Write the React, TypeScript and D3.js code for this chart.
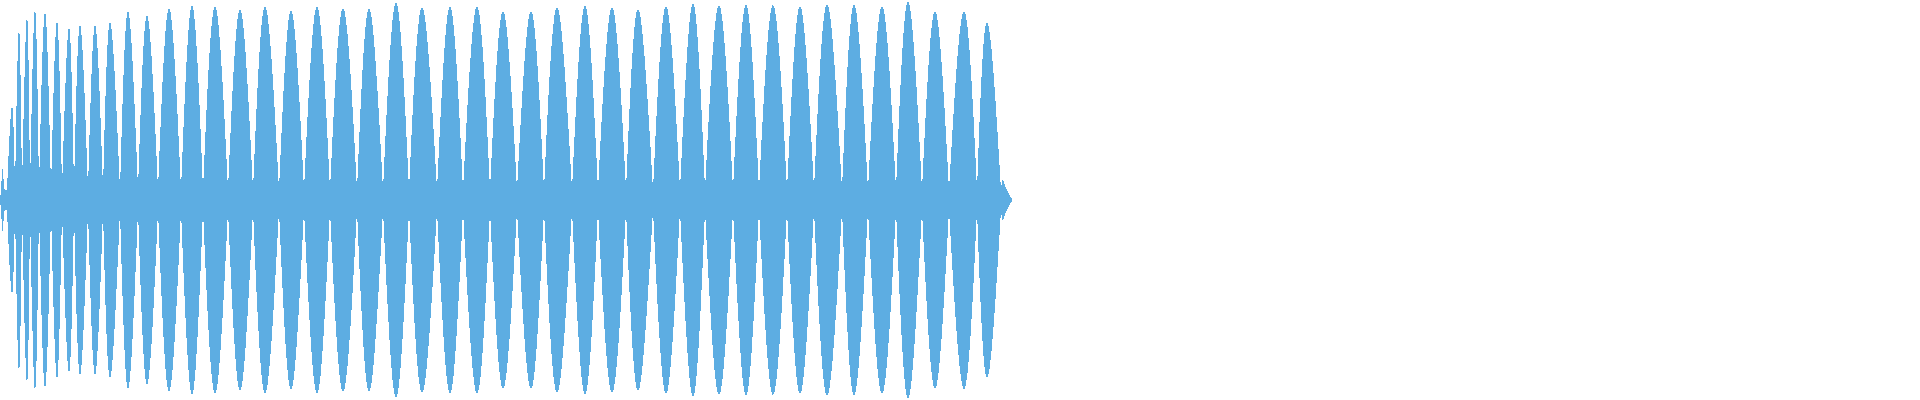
import React, { useEffect, useRef } from 'react';
import * as d3 from 'd3';

// Waveform envelope.
// x = pixel column of the waveform, amp = peak level (0..1 of half height)
const nullX = [7, 15, 22, 30, 39, 51, 62, 74, 88, 103, 120, 138, 158, 181, 203, 228, 253, 279, 304, 330, 357, 383, 409, 437, 463, 490, 517, 544, 572, 598, 626, 653, 680, 705, 733, 759, 787, 814, 842, 868, 896, 922, 949, 977, 1001];
const peakX = [12, 19, 27, 35, 45, 57, 69, 80, 95, 110, 128, 147, 169, 192, 215, 240, 265, 291, 317, 343, 369, 396, 422, 450, 477, 503, 531, 557, 585, 612, 638, 666, 693, 719, 746, 773, 800, 827, 854, 882, 908, 935, 964, 987];
const peakAmp = [0.47, 0.86, 0.92, 0.955, 0.94, 0.895, 0.865, 0.875, 0.875, 0.89, 0.945, 0.925, 0.96, 0.975, 0.97, 0.955, 0.97, 0.95, 0.97, 0.96, 0.96, 0.99, 0.965, 0.97, 0.97, 0.945, 0.945, 0.965, 0.975, 0.965, 0.955, 0.97, 0.985, 0.975, 0.98, 0.975, 0.97, 0.98, 0.98, 0.97, 0.995, 0.945, 0.945, 0.89];
const nullAmp = 0.05;

// little click at the start and the fade-out at the end
const leadX = [0, 1, 2, 3, 4, 5, 7];
const leadAmp = [0.015, 0.03, 0.16, 0.15, 0.06, 0.05, 0.05];
const tailX = [1001, 1002, 1003, 1005, 1007, 1009, 1012];
const tailAmp = [0.05, 0.1, 0.105, 0.07, 0.05, 0.03, 0.005];

const WaveForm: React.FC = () => {
  const d3Container = useRef(null);

  useEffect(() => {
    if (d3Container.current) {
      const width = 1920;
      const height = 400;

      d3.select(d3Container.current).selectAll("*").remove();

      const svg = d3.select(d3Container.current)
        .append("svg")
        .attr("width", width)
        .attr("height", height)
        .style("display", "block");

      const x = d3.scaleLinear().domain([0, width]).range([0, width]);
      const y = d3.scaleLinear().domain([-1, 1]).range([height, 0]);

      const area = d3.area<[number, number]>()
        .x(d => x(d[0]))
        .y0(d => y(-d[1]))
        .y1(d => y(d[1]));

      const lobeArea = area.curve(d3.curveNatural);
      const paths: string[] = [];

      // one lens per lobe, so the notches between them stay sharp
      peakX.forEach((px, i) => {
        const pts: [number, number][] = [
          [nullX[i], nullAmp],
          [px, peakAmp[i]],
          [nullX[i + 1], nullAmp],
        ];
        paths.push(lobeArea(pts) || "");
      });

      const edgeArea = d3.area<[number, number]>()
        .x(d => x(d[0]))
        .y0(d => y(-d[1]))
        .y1(d => y(d[1]))
        .curve(d3.curveLinear);

      paths.push(edgeArea(leadX.map((v, i) => [v, leadAmp[i]] as [number, number])) || "");
      paths.push(edgeArea(tailX.map((v, i) => [v, tailAmp[i]] as [number, number])) || "");

      svg.append("path")
        .attr("d", paths.join(""))
        .attr("fill", "#5dade2")
        .attr("shape-rendering", "crispEdges");
    }
  }, []);

  return (
    <div style={{ position: 'absolute', left: 0, top: 0, width: 1920, height: 400, background: '#fff' }} ref={d3Container}></div>
  );
};

export default function App() {
  return <WaveForm />;
}
